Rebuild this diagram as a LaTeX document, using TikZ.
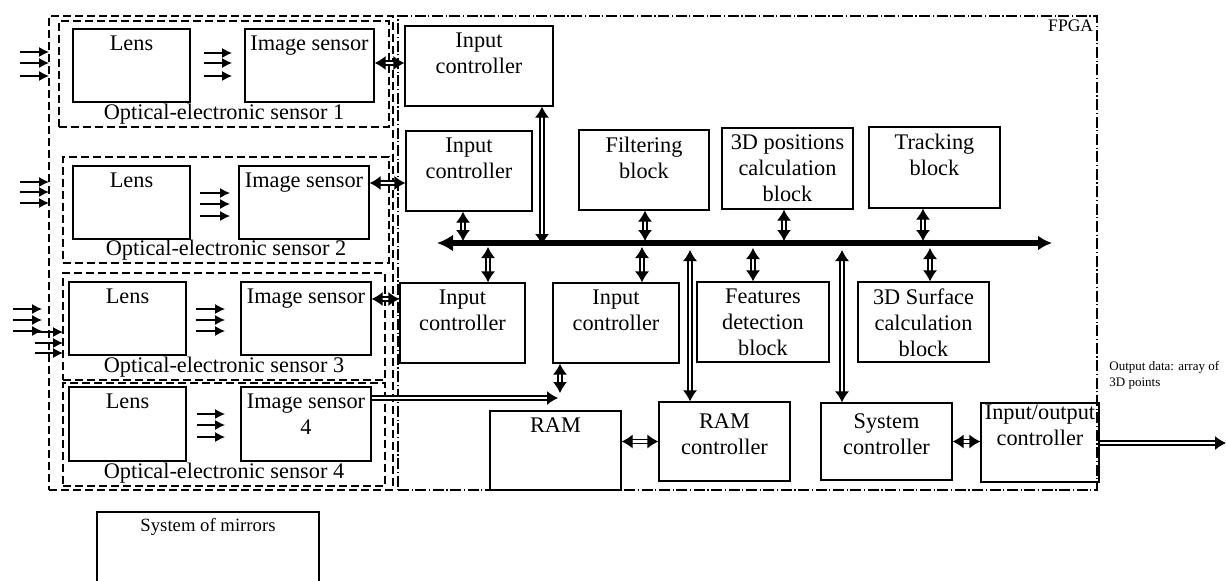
\documentclass[tikz,border=0pt]{standalone}
\usepackage{fontspec}
\setmainfont{Liberation Serif}
\usetikzlibrary{positioning, calc, fit, arrows.meta}

\tikzset{
  blk/.style={draw, line width=0.6pt, inner sep=0pt},
  dsh/.style={blk, dash pattern=on 4pt off 2pt},
  dshdot/.style={blk, dash pattern=on 5.5pt off 1.3pt on 0.6pt off 1.3pt},
  ttl/.style={label={[anchor=north, align=center, inner sep=3.5pt]north:#1}},
  btm/.style={label={[anchor=south, inner sep=1.5pt]south:#1}},
  ray/.style={line width=0.6pt, -{Latex[length=5pt,width=5pt]}},
  dbl/.style={double, double distance=1.4pt, line width=0.6pt,
    {Latex[length=5.5pt,width=7pt]}-{Latex[length=5.5pt,width=7pt]}},
  dblr/.style={double, double distance=1.4pt, line width=0.6pt,
    -{Latex[length=5.5pt,width=7pt]}},
  bus/.style={line width=3pt,
    {Latex[length=8pt,width=8.5pt]}-{Latex[length=7pt,width=7.5pt]}}
}

\begin{document}
\begin{tikzpicture}[x=0.5pt, y=-0.5pt, font=\fontsize{11.15}{13}\selectfont]
\useasboundingbox (0,0) rectangle (1226,580);

% frames
\node[dsh, fit={(49,16) (393,490)}] (grp) {};
\node[dshdot, fit={(398,16) (1097,490)},
  label={[anchor=north east, inner sep=2pt, font=\fontsize{8.8}{10}\selectfont]north east:FPGA}] (fpga) {};

% optical-electronic sensors
\node[dsh, fit={(59,21) (389,127)}, btm=Optical-electronic sensor 1] (s1) {};
\node[dsh, fit={(63,157) (389,263)}, btm=Optical-electronic sensor 2] (s2) {};
\node[dsh, fit={(63,273) (385,380)}, btm=Optical-electronic sensor 3] (s3) {};
\node[dsh, fit={(63,383) (385,486)}, btm=Optical-electronic sensor 4] (s4) {};

\node[blk, fit={(73,29) (190,102)}, ttl=Lens] (l1) {};
\node[blk, fit={(73,166) (190,239)}, ttl=Lens] (l2) {};
\node[blk, fit={(69,282) (186,355)}, ttl=Lens] (l3) {};
\node[blk, fit={(69,387) (186,461)}, ttl=Lens] (l4) {};

\node[blk, fit={(245,29) (374,102)}, ttl=Image sensor] (is1) {};
\node[blk, fit={(239,166) (369,239)}, ttl=Image sensor] (is2) {};
\node[blk, fit={(241,282) (371,355)}, ttl=Image sensor] (is3) {};
\node[blk, fit={(241,387) (371,461)}, ttl={Image sensor\\4}] (is4) {};

% light
\foreach \y in {52,63,76} \draw[ray] (20,\y) -- (49,\y);
\foreach \y in {182,192,203} \draw[ray] (20,\y) -- (49,\y);
\foreach \y in {309,320,331} \draw[ray] (13,\y) -- (42,\y);
\foreach \y in {332,343,353} \draw[ray] (35,\y) -- (63,\y);
\foreach \y in {53,63,76} \draw[ray] (204,\y) -- (232,\y);
\foreach \y in {193,204,216} \draw[ray] (200,\y) -- (230,\y);
\foreach \y in {309,320,331} \draw[ray] (196,\y) -- (225,\y);
\foreach \y in {414,425,437} \draw[ray] (197,\y) -- (225,\y);

% FPGA blocks
\node[blk, fit={(405,26) (553,106)}, ttl={Input\\controller}] (ic1) {};
\node[blk, fit={(406,131) (532,211)}, ttl={Input\\controller}] (ic2) {};
\node[blk, fit={(579,130) (709,210)}, ttl={Filtering\\block}] (filt) {};
\node[blk, fit={(722,128) (853,209)}, ttl={3D positions\\calculation\\block}] (pos) {};
\node[blk, fit={(869,127) (1000,208)}, ttl={Tracking\\block}] (trk) {};
\node[blk, fit={(400,283) (525,363)}, ttl={Input\\controller}] (ic3) {};
\node[blk, fit={(553,283) (679,363)}, ttl={Input\\controller}] (ic4) {};
\node[blk, fit={(697,282) (829,362)}, ttl={Features\\detection\\block}] (feat) {};
\node[blk, fit={(858,282) (989,362)}, ttl={3D Surface\\calculation\\block}] (surf) {};
\node[blk, fit={(490,411) (621,490)}, ttl=RAM] (ram) {};
\node[blk, fit={(659,402) (790,481)}, align=center] (ramc) {RAM\\controller};
\node[blk, fit={(821,403) (952,480)}, align=center] (sysc) {System\\controller};
\node[blk, fit={(981,403) (1099,482)},
  label={[anchor=north, align=center, inner sep=1pt]north:Input/output\\controller}] (ioc) {};

\node[blk, fit={(97,512) (319,600)},
  ttl={\fontsize{9.35}{11}\selectfont System of mirrors}] (mir) {};

% bus
\coordinate (busL) at (437,243);
\coordinate (busR) at (1052,243);
\draw[bus] (busL) -- (busR);

\coordinate (j1) at (542,245);
\coordinate (j2) at (463,241);
\coordinate (j3) at (645,241);
\coordinate (j4) at (784,241);
\coordinate (j5) at (923,241);
\foreach \j/\b in {j1/ic1, j2/ic2, j3/filt, j4/pos, j5/trk}
  \draw[dbl] (\b.south -| \j) -- (\j);

\coordinate (k1) at (488,247);
\coordinate (k2) at (642,247);
\coordinate (k3) at (690,250);
\coordinate (k4) at (753,248);
\coordinate (k5) at (842,250);
\coordinate (k6) at (930,248);
\foreach \k/\b in {k1/ic3, k2/ic4, k3/ramc, k4/feat, k5/sysc, k6/surf}
  \draw[dbl] (\k) -- (\b.north -| \k);

% links
\draw[dbl] ([yshift=1.25pt]is1.east) -- ([yshift=1.25pt]is1.east -| ic1.west);
\draw[dbl] ([yshift=9.75pt]is2.east) -- ([yshift=9.75pt]is2.east -| ic2.west);
\draw[dbl] ([yshift=9.75pt]is3.east) -- ([yshift=9.75pt]is3.east -| ic3.west);

\coordinate (m4) at (558,398);
\draw[dblr] (is4.east |- m4) -- (m4);
\coordinate (n4) at (560,393);
\draw[dbl] (ic4.south -| n4) -- (n4);

\draw[dbl] (ram.east |- ramc.west) -- (ramc.west);
\draw[dbl] (sysc.east) -- (sysc.east -| ioc.west);

\coordinate (outR) at (1226,443);
\draw[dblr] (ioc.east |- outR) -- (outR);
\node[anchor=north west, inner sep=0pt, align=left,
  font=\fontsize{6.5}{7.8}\selectfont] (outtxt) at (1109,361) {Output data: array of\\3D points};
\end{tikzpicture}
\end{document}
